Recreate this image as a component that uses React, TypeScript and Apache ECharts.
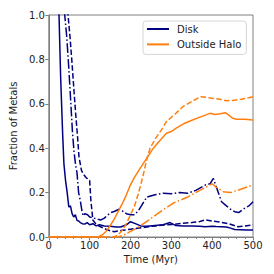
import React, { useEffect, useRef } from "react";
import * as echarts from "echarts";

// Time (Myr) and fraction values for each curve
const diskSolidT = [0, 20, 25, 29, 34, 37, 41, 45, 49, 53, 57, 61, 65, 69, 73, 77, 82, 88, 94, 100, 108, 116, 124, 136, 150, 165, 176, 190, 200, 212, 225, 240, 260, 280, 297, 310, 330, 350, 370, 383, 400, 410, 423, 435, 445, 455, 470, 485, 500];
const diskSolidV = [1.8, 1.3, 1.0, 0.72, 0.46, 0.33, 0.255, 0.2, 0.135, 0.14, 0.105, 0.09, 0.1, 0.075, 0.072, 0.065, 0.06, 0.058, 0.065, 0.055, 0.06, 0.05, 0.055, 0.05, 0.048, 0.045, 0.045, 0.055, 0.069, 0.06, 0.05, 0.048, 0.052, 0.055, 0.065, 0.052, 0.05, 0.05, 0.048, 0.046, 0.048, 0.047, 0.046, 0.045, 0.04, 0.034, 0.033, 0.032, 0.031];

const diskDashedT = [0, 35, 47, 52, 57, 62, 66, 70, 74, 77, 80, 84, 90, 96, 100, 103, 108, 115, 122, 128, 140, 150, 160, 180, 200, 216, 240, 260, 280, 304, 328, 350, 370, 383, 400, 423, 440, 463, 480, 500];
const diskDashedV = [1.8, 1.25, 1.0, 0.9, 0.78, 0.65, 0.55, 0.46, 0.36, 0.33, 0.3, 0.285, 0.27, 0.26, 0.255, 0.165, 0.075, 0.06, 0.05, 0.045, 0.035, 0.028, 0.024, 0.03, 0.035, 0.039, 0.045, 0.05, 0.054, 0.056, 0.062, 0.065, 0.07, 0.077, 0.072, 0.066, 0.06, 0.046, 0.05, 0.054];

const diskDashDotT = [0, 30, 39, 44, 49, 54, 58, 62, 66, 69, 73, 77, 81, 84, 88, 95, 100, 112, 120, 128, 136, 145, 152, 160, 172, 180, 190, 200, 210, 220, 230, 240, 260, 280, 300, 320, 340, 360, 383, 395, 403, 407, 415, 423, 435, 445, 455, 465, 479, 490, 500];
const diskDashDotV = [1.8, 1.2, 1.0, 0.9, 0.76, 0.6, 0.47, 0.38, 0.32, 0.29, 0.2, 0.165, 0.12, 0.095, 0.105, 0.1, 0.09, 0.084, 0.08, 0.077, 0.085, 0.1, 0.11, 0.115, 0.125, 0.118, 0.105, 0.1, 0.1, 0.12, 0.15, 0.18, 0.19, 0.197, 0.195, 0.2, 0.197, 0.21, 0.234, 0.24, 0.264, 0.242, 0.2, 0.159, 0.14, 0.125, 0.114, 0.11, 0.129, 0.14, 0.159];

const haloSolidT = [0, 120, 130, 140, 150, 160, 170, 180, 190, 200, 210, 224, 240, 256, 270, 288, 300, 312, 330, 352, 370, 385, 395, 407, 420, 432, 440, 450, 460, 480, 500];
const haloSolidV = [0, 0, 0.008, 0.025, 0.05, 0.08, 0.115, 0.15, 0.19, 0.235, 0.27, 0.31, 0.355, 0.4, 0.43, 0.467, 0.475, 0.49, 0.51, 0.527, 0.54, 0.55, 0.557, 0.552, 0.555, 0.56, 0.55, 0.535, 0.53, 0.53, 0.527];

const haloDashedT = [0, 160, 170, 180, 190, 200, 210, 220, 230, 240, 248, 260, 275, 288, 310, 328, 350, 372, 390, 400, 420, 435, 450, 471, 490, 500];
const haloDashedV = [0, 0, 0.01, 0.03, 0.06, 0.1, 0.14, 0.2, 0.27, 0.35, 0.4, 0.44, 0.48, 0.52, 0.555, 0.587, 0.61, 0.632, 0.628, 0.625, 0.62, 0.614, 0.615, 0.62, 0.627, 0.632];

const haloDashDotT = [0, 170, 185, 200, 216, 240, 270, 304, 340, 370, 400, 410, 427, 445, 470, 500];
const haloDashDotV = [0, 0, 0.01, 0.025, 0.04, 0.07, 0.11, 0.152, 0.18, 0.21, 0.24, 0.225, 0.204, 0.2, 0.215, 0.234];

const xTicks = [0, 100, 200, 300, 400, 500];
const yTicks = [0, 0.2, 0.4, 0.6, 0.8, 1.0];

const NAVY = "#000080";
const ORANGE = "#ff7f0e";
const DASH = [5.5, 2.4];
const DASHDOT = [9.6, 2.4, 1.5, 2.4];

const zip = (t: number[], v: number[]) => t.map((x, i) => [x, v[i]]);

export default function App() {
  const ref = useRef<HTMLDivElement>(null);
  useEffect(() => {
    if (!ref.current) return;
    const chart = echarts.init(ref.current, null, { renderer: "svg" });
    const mk = (name: string, t: number[], v: number[], color: string, type: any) => ({
      name,
      type: "line",
      data: zip(t, v),
      symbol: "none",
      showSymbol: false,
      clip: true,
      lineStyle: { color, width: 1.5, type },
      itemStyle: { color },
    });
    const fontFamily = "DejaVu Sans";
    chart.setOption({
      animation: false,
      backgroundColor: "#ffffff",
      grid: {
        left: 43,
        right: 21,
        top: 15,
        bottom: 37,
        show: true,
        borderColor: "#808080",
        borderWidth: 1,
        backgroundColor: "transparent",
      },
      legend: {
        data: ["Disk", "Outside Halo"],
        orient: "vertical",
        left: 143,
        top: 21,
        padding: [3, 5, 5, 3],
        itemWidth: 22,
        itemHeight: 10,
        itemGap: 5.4,
        itemStyle: { opacity: 0 },
        backgroundColor: "rgba(255,255,255,0.8)",
        borderColor: "#d6d6d6",
        borderWidth: 1,
        borderRadius: 3,
        textStyle: { fontFamily, fontSize: 10, color: "#222", padding: [0, 0, 0, 3] },
      },
      xAxis: {
        type: "value",
        min: xTicks[0],
        max: xTicks[xTicks.length - 1],
        interval: 100,
        name: "Time (Myr)",
        nameLocation: "middle",
        nameGap: 17,
        nameTextStyle: { fontFamily, fontSize: 10, color: "#222" },
        axisLine: { show: true, lineStyle: { color: "#808080", width: 1 } },
        axisTick: { show: true, length: 3.5, lineStyle: { color: "#808080" } },
        minorTick: { show: true, splitNumber: 5, length: 2, lineStyle: { color: "#808080" } },
        splitLine: { show: false },
        axisLabel: { fontFamily, fontSize: 10, color: "#222", margin: 3 },
      },
      yAxis: {
        type: "value",
        min: yTicks[0],
        max: yTicks[yTicks.length - 1],
        interval: 0.2,
        name: "Fraction of Metals",
        nameLocation: "middle",
        nameGap: 22,
        nameTextStyle: { fontFamily, fontSize: 10, color: "#222" },
        axisLine: { show: true, lineStyle: { color: "#808080", width: 1 } },
        axisTick: { show: true, length: 3.5, lineStyle: { color: "#808080" } },
        splitLine: { show: false },
        axisLabel: {
          fontFamily,
          fontSize: 10,
          color: "#222",
          margin: 4,
          formatter: (v: number) => v.toFixed(1),
        },
      },
      series: [
        mk("Disk", diskSolidT, diskSolidV, NAVY, "solid"),
        mk("Disk dashed", diskDashedT, diskDashedV, NAVY, DASH),
        mk("Disk dash-dot", diskDashDotT, diskDashDotV, NAVY, DASHDOT),
        mk("Outside Halo", haloSolidT, haloSolidV, ORANGE, "solid"),
        mk("Outside Halo dashed", haloDashedT, haloDashedV, ORANGE, DASH),
        mk("Outside Halo dash-dot", haloDashDotT, haloDashDotV, ORANGE, DASHDOT),
      ],
    });
    return () => chart.dispose();
  }, []);
  return (
    <div
      ref={ref}
      style={{ position: "fixed", left: 0, top: 0, width: 274, height: 274, background: "#fff" }}
    />
  );
}
